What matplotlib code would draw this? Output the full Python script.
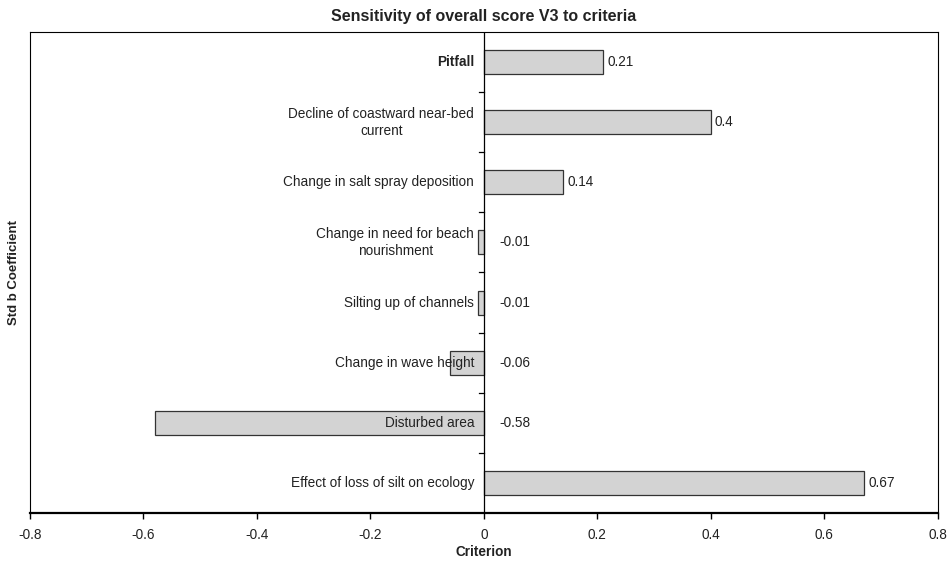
import matplotlib
matplotlib.use('Agg')
import matplotlib.pyplot as plt
import numpy as np

plt.rcParams['font.family'] = ['Liberation Sans', 'DejaVu Sans']

# data, top to bottom as drawn
criteria = ['Pitfall',
            'Decline of coastward near-bed\ncurrent',
            'Change in salt spray deposition',
            'Change in need for beach\nnourishment',
            'Silting up of channels',
            'Change in wave height',
            'Disturbed area',
            'Effect of loss of silt on ecology']
coef = [0.21, 0.4, 0.14, -0.01, -0.01, -0.06, -0.58, 0.67]
xticks = [-0.8, -0.6, -0.4, -0.2, 0, 0.2, 0.4, 0.6, 0.8]
xticklabels = ['-0.8', '-0.6', '-0.4', '-0.2', '0', '0.2', '0.4', '0.6', '0.8']

fig = plt.figure(figsize=(9.53, 5.63), dpi=100)
ax = fig.add_axes([0.0315, 0.0888, 0.9525, 0.8545])

n = len(criteria)
ypos = np.arange(n)[::-1]
ax.barh(ypos, coef, height=0.4, color='#d3d3d3', edgecolor='#333333',
        linewidth=0.9, zorder=2)

ax.set_xlim(-0.8, 0.8)
ax.set_ylim(-0.5, n - 0.5)
ax.axvline(0, color='black', linewidth=0.9, zorder=3)

# category labels beside the zero line
for y, name in zip(ypos, criteria):
    weight = 'bold' if name == 'Pitfall' else 'normal'
    ax.annotate(name, xy=(0, y), xytext=(-7, 0), textcoords='offset points',
                ha='right', va='center', multialignment='center',
                fontsize=9.8, fontweight=weight, color='#222222', zorder=4,
                linespacing=1.25)

# value labels (negatives sit right of the zero line)
for y, v in zip(ypos, coef):
    x, off = (v, 3) if v > 0 else (0, 11)
    ax.annotate(f'{v:g}', xy=(x, y), xytext=(off, 0), textcoords='offset points',
                ha='left', va='center', fontsize=9.8, color='#222222')

# small ticks on the zero line between categories
for yb in np.arange(n - 1) + 0.5:
    ax.plot([-0.008, 0], [yb, yb], color='black', linewidth=0.9,
            clip_on=False, zorder=3)

ax.set_yticks([])
ax.set_xticks(xticks)
ax.set_xticklabels(xticklabels, fontsize=9.8, color='#222222')
ax.tick_params(axis='x', direction='out', length=4, width=1, pad=7)

for side in ['left', 'right', 'top']:
    ax.spines[side].set_linewidth(0.8)
ax.spines['bottom'].set_linewidth(1.6)

ax.set_title('Sensitivity of overall score V3 to criteria', fontsize=11.5,
             fontweight='bold', pad=8, color='#222222')
ax.set_xlabel('Criterion', fontsize=9.8, fontweight='bold', labelpad=2,
              color='#222222')
ax.set_ylabel('Std b Coefficient', fontsize=9.5, fontweight='bold', labelpad=7,
              color='#222222')

fig.savefig('out.png', dpi=100)
